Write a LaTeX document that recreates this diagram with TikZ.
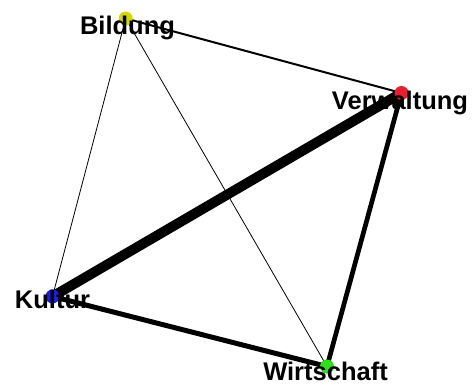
\documentclass[tikz,border=0pt]{standalone}
\usepackage{fontspec}
\setmainfont{Liberation Sans}
\begin{document}
\begin{tikzpicture}[x=1pt,y=-1pt,
  vdot/.style={circle,inner sep=0pt,minimum size=14pt},
  vlabel/.style={inner sep=0pt,anchor=base,font=\fontsize{25.5}{30}\selectfont\bfseries},
  edge/.style={draw=black,line cap=butt}]
\useasboundingbox (0,0) rectangle (474,385);
\definecolor{cyel}{RGB}{214,214,0}
\definecolor{cred}{RGB}{230,30,50}
\definecolor{cblue}{RGB}{30,30,230}
\definecolor{cgreen}{RGB}{50,220,30}
\coordinate (b) at (125.7,18.5);
\coordinate (v) at (401.5,93);
\coordinate (k) at (52.5,296.5);
\coordinate (w) at (327,366.5);
\draw[edge,line width=0.8pt] (b) -- (k);
\draw[edge,line width=0.8pt] (b) -- (w);
\draw[edge,line width=2pt] (b) -- (v);
\draw[edge,line width=4.7pt] (v) -- (w);
\draw[edge,line width=5pt] (k) -- (w);
\draw[edge,line width=10pt] (k) -- (v);
\node[vdot,fill=cyel] (db) at (b) {};
\node[vdot,fill=cred] (dv) at (v) {};
\node[vdot,fill=cblue] (dk) at (k) {};
\node[vdot,fill=cgreen] (dw) at (w) {};
\node[vlabel] (lb) at (127.5,35) {Bildung};
\node[vlabel] (lv) at (400,110) {Verwaltung};
\node[vlabel] (lk) at (52.5,308) {Kultur};
\node[vlabel] (lw) at (325.5,380) {Wirtschaft};
\end{tikzpicture}
\end{document}
